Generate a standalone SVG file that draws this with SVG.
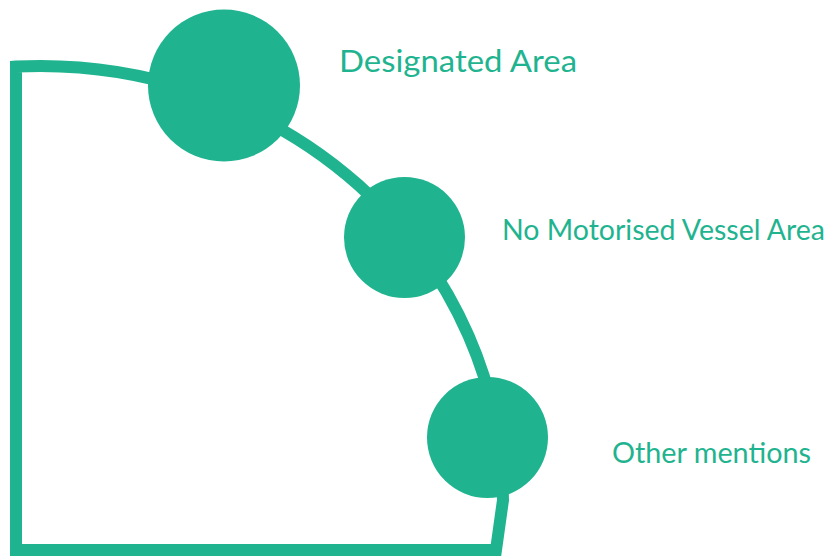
<svg xmlns="http://www.w3.org/2000/svg" width="830" height="560" viewBox="0 0 830 560">
  <style>
    .frame { fill: none; stroke: #1fb48f; stroke-width: 12; stroke-linejoin: miter; }
    .dot { fill: #1fb48f; }
    .lbl { fill: #1fb48f; font-family: "Lato", "Open Sans", "Liberation Sans", sans-serif; }
  </style>
  <rect width="830" height="560" fill="#ffffff"/>
  <g id="connectors">
    <path class="frame" d="M16,550 L16,66.6 A463,434 0 0 1 503,500 L496,550 Z"/>
  </g>
  <g id="node-designated">
    <circle class="dot" cx="224" cy="85.5" r="76"/>
    <text class="lbl" x="339" y="71.5" font-size="31" textLength="238" lengthAdjust="spacingAndGlyphs">Designated Area</text>
  </g>
  <g id="node-no-motorised">
    <circle class="dot" cx="404.5" cy="237.5" r="60.5"/>
    <text class="lbl" x="502" y="240" font-size="28.5" textLength="323" lengthAdjust="spacingAndGlyphs">No Motorised Vessel Area</text>
  </g>
  <g id="node-other">
    <circle class="dot" cx="487.5" cy="437.5" r="60.5"/>
    <text class="lbl" x="612" y="463" font-size="28.5" textLength="199" lengthAdjust="spacingAndGlyphs">Other mentions</text>
  </g>
</svg>
